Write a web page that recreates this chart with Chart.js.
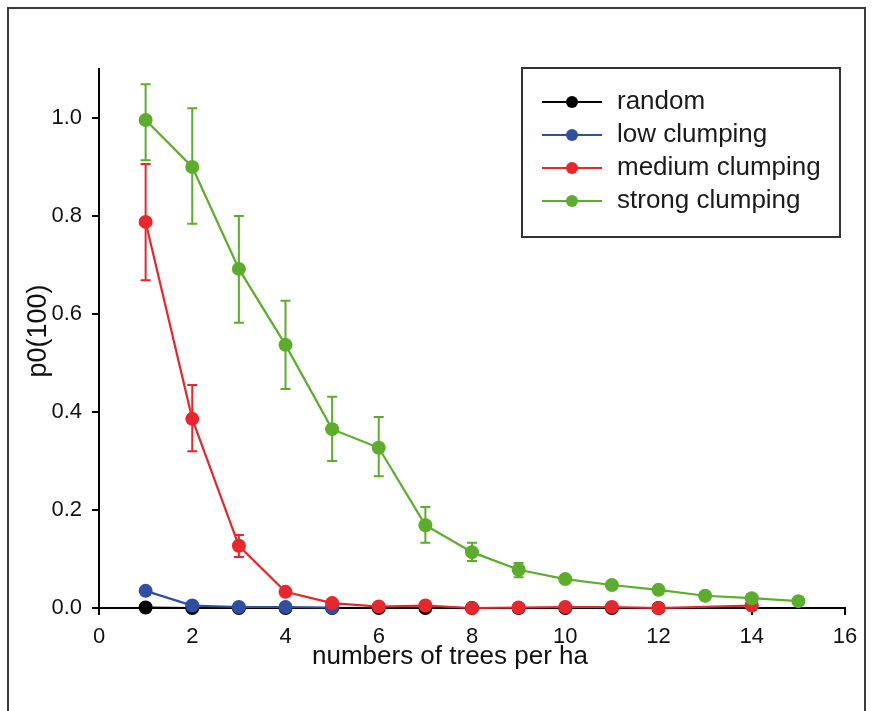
<!DOCTYPE html>
<html>
<head>
<meta charset="utf-8">
<script src="https://cdn.jsdelivr.net/npm/chart.js@4.4.0/dist/chart.umd.min.js"></script>
<style>
  body { margin: 0; background: #fff; }
  #marco { position: absolute; left: 7px; top: 7px; width: 855px; height: 720px; border: 2px solid #3a3a3a; }
  canvas { position: absolute; left: 0; top: 0; }
</style>
</head>
<body>
<div id="marco"></div>
<canvas id="myChart" width="872" height="711"></canvas>
<script>
    // datos

const randomX = [1, 2, 3, 4, 5, 6, 7, 8, 9, 10, 11, 12];
const randomY = [0.001, 0, 0, 0, 0, 0, 0, 0, 0, 0, 0, 0];

const lowX = [1, 2, 3, 4, 5];
const lowY = [0.035, 0.005, 0.002, 0.002, 0.001];

const mediumX = [1, 2, 3, 4, 5, 6, 7, 8, 9, 10, 11, 12, 14];
const mediumY = [0.788, 0.386, 0.127, 0.033, 0.010, 0.003, 0.005, 0.0, 0.001, 0.002, 0.002, 0.0, 0.005];
const mediumHi = [0.906, 0.455, 0.149, null, null, null, null, null, null, null, null, null, null];
const mediumLo = [0.669, 0.320, 0.104, null, null, null, null, null, null, null, null, null, null];

const strongX = [1, 2, 3, 4, 5, 6, 7, 8, 9, 10, 11, 12, 13, 14, 15];
const strongY = [0.996, 0.900, 0.692, 0.537, 0.365, 0.327, 0.169, 0.114, 0.078, 0.059, 0.047, 0.037, 0.025, 0.020, 0.014];
const strongHi = [1.069, 1.020, 0.800, 0.627, 0.431, 0.390, 0.206, 0.133, 0.092, null, null, null, null, null, null];
const strongLo = [0.914, 0.784, 0.582, 0.447, 0.300, 0.269, 0.133, 0.096, 0.063, null, null, null, null, null, null];

const xTicks = [0, 2, 4, 6, 8, 10, 12, 14, 16];
const yTicks = [0, 0.2, 0.4, 0.6, 0.8, 1.0];

const tituloX = 'numbers of trees per ha';
const tituloY = 'p0(100)';

const fuente = "'Liberation Sans', Arial, sans-serif";

function puntos(xs, ys) {
    return xs.map((x, i) => ({ x: x, y: ys[i] }));
}

function serie(label, color, xs, ys, orden, hi, lo) {
    return {
        label: label,
        data: puntos(xs, ys),
        borderColor: color,
        backgroundColor: color,
        pointBackgroundColor: color,
        pointBorderWidth: 0,
        pointRadius: 7,
        borderWidth: 2.2,
        tension: 0,
        clip: false,
        order: orden,
        errHi: hi || [],
        errLo: lo || []
    };
}

    // barras de error

const barrasError = {
    id: 'barrasError',
    beforeDatasetDraw(chart, args) {
        const ds = chart.data.datasets[args.index];
        const ctx = chart.ctx;
        const xs = chart.scales.x;
        const ys = chart.scales.y;
        ctx.save();
        ctx.strokeStyle = ds.borderColor;
        ctx.lineWidth = 2;
        ds.data.forEach((p, i) => {
            const hi = ds.errHi[i];
            const lo = ds.errLo[i];
            if (hi == null || lo == null) return;
            const px = xs.getPixelForValue(p.x);
            const yh = ys.getPixelForValue(hi);
            const yl = ys.getPixelForValue(lo);
            ctx.beginPath();
            ctx.moveTo(px, yh); ctx.lineTo(px, yl);
            ctx.moveTo(px - 5, yh); ctx.lineTo(px + 5, yh);
            ctx.moveTo(px - 5, yl); ctx.lineTo(px + 5, yl);
            ctx.stroke();
        });
        ctx.restore();
    }
};

    // titulo del eje x y leyenda con caja

const leyenda = {
    id: 'leyenda',
    afterDraw(chart) {
        const ctx = chart.ctx;
        const area = chart.chartArea;
        ctx.save();
        ctx.fillStyle = '#111';
        ctx.font = '26px ' + fuente;
        ctx.textAlign = 'center';
        ctx.textBaseline = 'middle';
        ctx.fillText(tituloX, 450, 657);

        ctx.translate(39, 331);
        ctx.rotate(-Math.PI / 2);
        ctx.font = '27px ' + fuente;
        ctx.fillText(tituloY, 0, 0);
        ctx.restore();

        const bx = area.right - 323, by = area.top - 1, bw = 318, bh = 169;
        ctx.save();
        ctx.fillStyle = '#fff';
        ctx.fillRect(bx, by, bw, bh);
        ctx.strokeStyle = '#333';
        ctx.lineWidth = 2;
        ctx.strokeRect(bx, by, bw, bh);
        const items = [0, 1, 2, 3].map(o => chart.data.datasets.find(d => d.order === 4 - o));
        items.forEach((ds, i) => {
            const y = by + 34 + i * 33;
            ctx.strokeStyle = ds.borderColor;
            ctx.lineWidth = 2;
            ctx.beginPath();
            ctx.moveTo(bx + 20, y); ctx.lineTo(bx + 80, y);
            ctx.stroke();
            ctx.fillStyle = ds.borderColor;
            ctx.beginPath();
            ctx.arc(bx + 50, y, 6, 0, Math.PI * 2);
            ctx.fill();
            ctx.fillStyle = '#1a1a1a';
            ctx.font = '26px ' + fuente;
            ctx.textBaseline = 'middle';
            ctx.fillText(ds.label, bx + 95, y);
        });
        ctx.restore();
    }
};

let dataGrafico = document.getElementById("myChart").getContext('2d');

const data = {
    datasets: [
        serie('random', '#000000', randomX, randomY, 4),
        serie('low clumping', '#2f4fa3', lowX, lowY, 3),
        serie('medium clumping', '#e8262b', mediumX, mediumY, 2, mediumHi, mediumLo),
        serie('strong clumping', '#5cad2b', strongX, strongY, 1, strongHi, strongLo)
    ]
};

const config = {
    type: 'line',
    data,
    options: {
        responsive: false,
        animation: false,
        events: [],
        layout: { padding: { top: 69, right: 27, left: 0, bottom: 0 } },
        plugins: { legend: { display: false }, tooltip: { enabled: false } },
        scales: {
            x: {
                type: 'linear',
                min: 0,
                max: 16,
                afterFit(s) { s.height = 103; },
                afterBuildTicks(s) { s.ticks = xTicks.map(v => ({ value: v })); },
                border: { display: true, color: '#000', width: 2 },
                grid: { drawOnChartArea: false, drawTicks: true, tickLength: 7, color: '#000', lineWidth: 2 },
                ticks: { color: '#111', padding: 9, maxRotation: 0, font: { family: fuente, size: 22 } },
                title: { display: false }
            },
            y: {
                type: 'linear',
                min: 0,
                max: 1.1,
                afterFit(s) { s.width = 99; },
                afterBuildTicks(s) { s.ticks = yTicks.map(v => ({ value: v })); },
                border: { display: true, color: '#000', width: 2 },
                grid: { drawOnChartArea: false, drawTicks: true, tickLength: 7, color: '#000', lineWidth: 2 },
                ticks: { color: '#111', padding: 10, font: { family: fuente, size: 22 }, callback: v => v.toFixed(1) },
                title: { display: false }
            }
        }
    },
    plugins: [barrasError, leyenda]
};

myChart = new Chart(dataGrafico, config);
</script>
</body>
</html>
